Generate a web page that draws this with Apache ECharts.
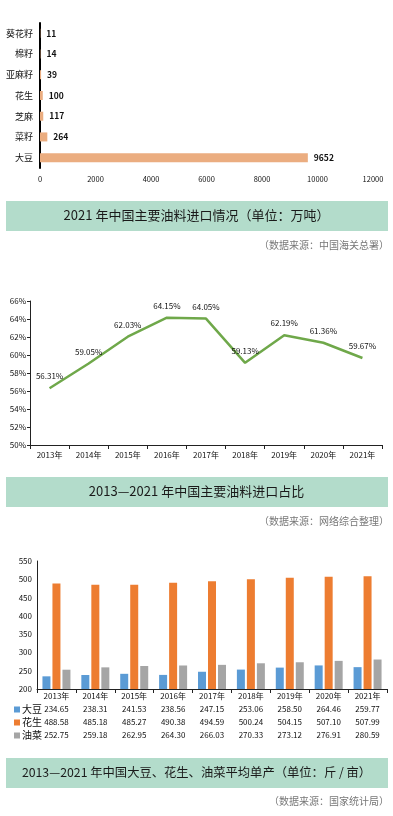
<!DOCTYPE html>
<html>
<head>
<meta charset="utf-8">
<script src="https://cdn.jsdelivr.net/npm/echarts@6/dist/echarts.min.js"></script>
<style>
html,body{margin:0;padding:0;background:#fff;}
#c{width:393px;height:816px;}
</style>
</head>
<body>
<div id="c"></div>
<script>
// Chart 1: 2021 imports (万吨)
var importCats = ['葵花籽','棉籽','亚麻籽','花生','芝麻','菜籽','大豆'];
var importVals = [11, 14, 39, 100, 117, 264, 9652];
// Chart 2: import share
var years = ['2013年','2014年','2015年','2016年','2017年','2018年','2019年','2020年','2021年'];
var importShare = [56.31, 59.05, 62.03, 64.15, 64.05, 59.13, 62.19, 61.36, 59.67];
// Chart 3: yields (斤/亩)
var soybean = [234.65, 238.31, 241.53, 238.56, 247.15, 253.06, 258.50, 264.46, 259.77];
var peanut = [488.58, 485.18, 485.27, 490.38, 494.59, 500.24, 504.15, 507.10, 507.99];
var rapeseed = [252.75, 259.18, 262.95, 264.30, 266.03, 270.33, 273.12, 276.91, 280.59];
var yieldNames = ['大豆','花生','油菜'];

var FONT = '"Noto Sans CJK SC", "Noto Sans", sans-serif';
var MINT = '#B3DCCB';

var chart = echarts.init(document.getElementById('c'), null, {renderer:'canvas'});

function titleBox(y, h, text, fs) {
  return [
    {type:'rect', left:6, top:y, shape:{width:382, height:h}, style:{fill:MINT}, silent:true},
    {type:'text', left:'center', top:y + h/2 - fs/2 - 1, style:{text:text, font:'normal ' + fs + 'px ' + FONT, fill:'#1a1a1a'}, silent:true}
  ];
}
function source(y, text) {
  return {type:'text', right:4, top:y, style:{text:text, font:'normal 10px ' + FONT, fill:'#777'}, silent:true};
}

var graphics = [].concat(
  titleBox(201, 30, '2021 年中国主要油料进口情况（单位：万吨）', 13),
  [source(240, '（数据来源：中国海关总署）')],
  titleBox(477, 30, '2013—2021 年中国主要油料进口占比', 13),
  [source(516, '（数据来源：网络综合整理）')],
  titleBox(758, 30, '2013—2021 年中国大豆、花生、油菜平均单产（单位：斤 / 亩）', 12.3),
  [source(796, '（数据来源：国家统计局）')]
);

function fmt2(v){ return v.toFixed(2); }

var option = {
  animation: false,
  textStyle: {fontFamily: FONT},
  graphic: graphics,
  legend: {
    data: yieldNames,
    orient: 'vertical',
    left: 9,
    top: 698,
    itemWidth: 6,
    itemHeight: 6,
    itemGap: 0,
    icon: 'rect',
    textStyle: {fontSize: 10, lineHeight: 13, color: '#111', padding: [0,0,0,-3]},
    selectedMode: false
  },
  grid: [
    {left: 40, top: 23, width: 333, height: 145},
    {left: 30, top: 301, width: 352, height: 144},
    {left: 37, top: 561, width: 350, height: 128}
  ],
  xAxis: [
    {gridIndex:0, type:'value', min:0, max:12000, interval:2000,
     axisLine:{show:false}, axisTick:{show:false}, splitLine:{show:false},
     axisLabel:{fontSize:7.5, color:'#111', margin:7, formatter: function(v){ return String(v); }}},
    {gridIndex:1, type:'category', data: years,
     axisLine:{lineStyle:{color:'#222', width:1}},
     axisTick:{show:true, length:4, lineStyle:{color:'#222'}},
     axisLabel:{fontSize:8, color:'#111', margin:6}},
    {gridIndex:2, type:'category', data: years,
     axisLine:{lineStyle:{color:'#222', width:1}},
     axisTick:{show:true, length:4, lineStyle:{color:'#222'}},
     axisLabel:{fontSize:8, color:'#111', margin:1, lineHeight:12.8,
       formatter: function(v, i){
         return v + '\n' + fmt2(soybean[i]) + '\n' + fmt2(peanut[i]) + '\n' + fmt2(rapeseed[i]);
       }}}
  ],
  yAxis: [
    {gridIndex:0, type:'category', data: importCats, inverse:true,
     axisLine:{lineStyle:{color:'#000', width:2}}, axisTick:{show:false},
     axisLabel:{fontSize:9, color:'#111', margin:7}},
    {gridIndex:1, type:'value', min:50, max:66, interval:2,
     axisLine:{show:true, lineStyle:{color:'#222', width:1}},
     axisTick:{show:true, length:3, lineStyle:{color:'#222'}},
     splitLine:{show:false},
     axisLabel:{fontSize:8, color:'#111', margin:4, formatter:'{value}%'}},
    {gridIndex:2, type:'value', min:200, max:550, interval:50,
     axisLine:{show:true, lineStyle:{color:'#222', width:1}},
     axisTick:{show:false},
     splitLine:{show:false},
     axisLabel:{fontSize:8, color:'#111', margin:5}}
  ],
  series: [
    {type:'bar', xAxisIndex:0, yAxisIndex:0, data: importVals, barWidth:9,
     itemStyle:{color:'#EBAD80'},
     label:{show:true, position:'right', distance:6, fontSize:8.5, color:'#111', fontWeight:'bold'}},
    {type:'line', xAxisIndex:1, yAxisIndex:1, data: importShare,
     symbol:'circle', symbolSize:0.1, showSymbol:true,
     itemStyle:{color:'#6FA84A'},
     lineStyle:{color:'#6FA84A', width:2.5},
     label:{show:true, position:'top', distance:8, fontSize:8, color:'#111',
       formatter: function(p){ return p.value.toFixed(2) + '%'; }}},
    {name:'大豆', type:'bar', xAxisIndex:2, yAxisIndex:2, data: soybean, barWidth:8, barGap:'25%',
     itemStyle:{color:'#5B9BD5'}},
    {name:'花生', type:'bar', xAxisIndex:2, yAxisIndex:2, data: peanut, barWidth:8, barGap:'25%',
     itemStyle:{color:'#ED7D31'}},
    {name:'油菜', type:'bar', xAxisIndex:2, yAxisIndex:2, data: rapeseed, barWidth:8, barGap:'25%',
     itemStyle:{color:'#A5A5A5'}}
  ]
};
chart.setOption(option);
</script>
</body>
</html>
